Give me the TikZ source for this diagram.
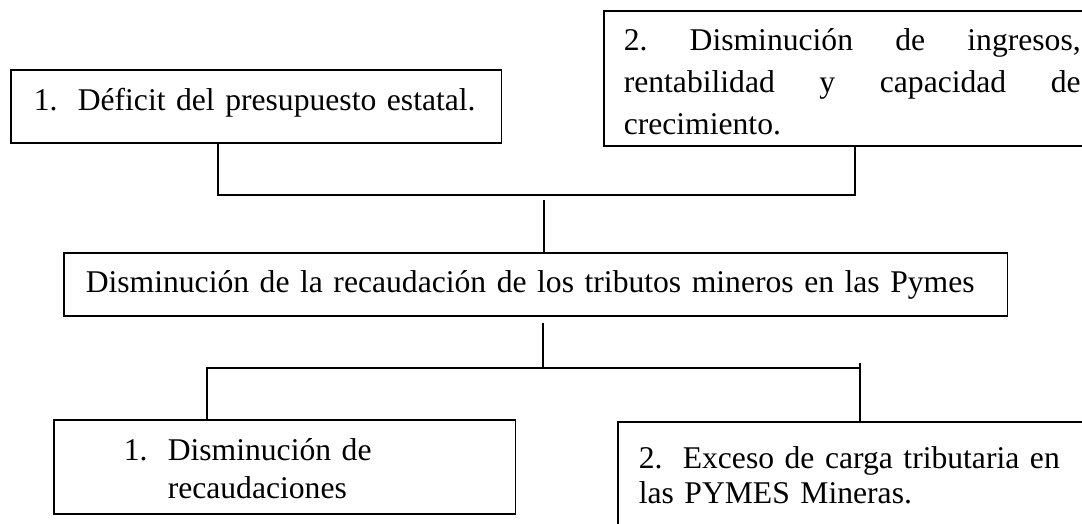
\documentclass[tikz,border=0pt]{standalone}
\usepackage{fontspec}
\setmainfont{Liberation Serif}
\newcommand{\num}[1]{\makebox[0.88cm][l]{#1}}

\begin{document}
\begin{tikzpicture}[x=0.02cm, y=-0.02cm, line width=0.9pt,
    font=\fontsize{18}{22}\selectfont,
    riquadro/.style={draw, anchor=north west, inner ysep=0pt, align=left}]
    \useasboundingbox (0,0) rectangle (1082,524);

    % Cause in alto
    \node[riquadro, inner xsep=0.46cm, text width=8.9cm, text height=0.82cm, text depth=0.64cm] (B1) at (10,69)
        {\num{1.}Déficit del presupuesto estatal.};
    \node[riquadro, inner xsep=0.4cm, text width=9.14cm, text height=0.8cm, text depth=1.9cm,
        font=\fontsize{18}{23.9}\selectfont] (B2) at (603,10)
        {2.\hfill Disminución\hfill de\hfill ingresos,\\
         rentabilidad\hfill y\hfill capacidad\hfill de\\
         crecimiento.};

    % Problema centrale
    \node[riquadro, inner xsep=0.44cm, text width=18cm, text height=0.8cm, text depth=0.46cm] (P) at (63,252)
        {Disminución de la recaudación de los tributos mineros en las Pymes};

    % Effetti in basso
    \node[riquadro, inner xsep=1.4cm, text width=6.44cm, text height=0.82cm, text depth=1.06cm,
        font=\fontsize{18}{21.6}\selectfont] (C1) at (53,419)
        {\num{1.}Disminución de\\\hspace*{0.88cm}recaudaciones};
    \node[riquadro, inner xsep=0.42cm, text width=8.82cm, text height=0.94cm, text depth=1.44cm,
        font=\fontsize{18}{19.9}\selectfont] (C2) at (617,421)
        {\num{2.}Exceso de carga tributaria en\\ las PYMES Mineras.};

    % Collegamenti
    \coordinate (ja) at (218,195);
    \coordinate (jb) at (855,195);
    \coordinate (jc) at (544,200);
    \coordinate (jd) at (543,323);
    \coordinate (je) at (207,368);
    \coordinate (jf) at (860,368);
    \coordinate (jg) at (860,363);

    \draw (B1.south -| ja) -- (ja) -- (jb) -- (B2.south -| jb);
    \draw (jc) -- (P.north -| jc);
    \draw (jd) -- (jd |- je);
    \draw (C1.north -| je) -- (je) -- (jf);
    \draw (jg) -- (C2.north -| jg);
\end{tikzpicture}
\end{document}
